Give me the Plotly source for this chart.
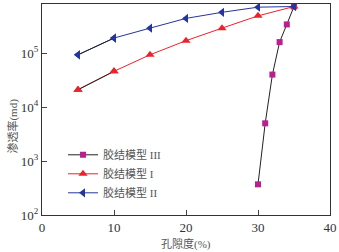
import plotly.graph_objects as go

porosity = [5, 10, 15, 20, 25, 30, 35]
perm_model_I = [2.1e4, 4.6e4, 9.3e4, 1.7e5, 2.9e5, 4.9e5, 7.3e5]
perm_model_II = [9.3e4, 1.9e5, 2.9e5, 4.4e5, 5.7e5, 7.1e5, 7.3e5]
porosity_III = [30, 31, 32, 33, 34, 35]
perm_model_III = [370, 5.0e3, 4.0e4, 1.6e5, 3.4e5, 7.3e5]

names = ["胶结模型 III", "胶结模型 I", "胶结模型 II"]
ytickvals = [1e2, 1e3, 1e4, 1e5]
yticktext = ["10<sup>2</sup>", "10<sup>3</sup>", "10<sup>4</sup>", "10<sup>5</sup>"]
xtickvals = [0, 10, 20, 30, 40]
xtitle = "孔隙度(%)"
ytitle = "渗透率(md)"

FONT = "Liberation Serif, Noto Sans CJK SC, serif"

fig = go.Figure()
fig.add_trace(go.Scatter(x=porosity_III, y=perm_model_III, mode="lines+markers", name=names[0],
                         line=dict(color="#222222", width=1),
                         marker=dict(symbol="square", size=6, color="#b8208f")))
fig.add_trace(go.Scatter(x=porosity, y=perm_model_I, mode="lines+markers", name=names[1],
                         line=dict(color="#f0202a", width=1),
                         marker=dict(symbol="triangle-up", size=8, color="#f0202a")))
fig.add_trace(go.Scatter(x=porosity, y=perm_model_II, mode="lines+markers", name=names[2],
                         line=dict(color="#26359a", width=1),
                         marker=dict(symbol="triangle-left", size=8, color="#26359a")))
# first segments are drawn in black in the original
fig.add_trace(go.Scatter(x=porosity[:2], y=perm_model_I[:2], mode="lines", showlegend=False,
                         line=dict(color="#222222", width=1)))
fig.add_trace(go.Scatter(x=porosity[:2], y=perm_model_II[:2], mode="lines", showlegend=False,
                         line=dict(color="#222222", width=1)))
fig.add_trace(go.Scatter(x=porosity[:2], y=perm_model_I[:2], mode="markers", showlegend=False,
                         marker=dict(symbol="triangle-up", size=8, color="#f0202a")))
fig.add_trace(go.Scatter(x=porosity[:2], y=perm_model_II[:2], mode="markers", showlegend=False,
                         marker=dict(symbol="triangle-left", size=8, color="#26359a")))

fig.update_layout(
    width=339, height=252,
    margin=dict(l=42, r=9, t=4, b=37),
    paper_bgcolor="white", plot_bgcolor="white",
    font=dict(family=FONT, size=12, color="#333333"),
    showlegend=True,
    legend=dict(x=0.073, y=0.354, xanchor="left", yanchor="top",
                bgcolor="rgba(0,0,0,0)", font=dict(size=11, color="#555555"),
                tracegroupgap=0, itemwidth=30),
    annotations=[
        dict(text=xtitle, xref="paper", yref="paper", x=0.5, y=-0.095, xanchor="center",
             yanchor="top", showarrow=False, font=dict(size=11, color="#555555")),
        dict(text=ytitle, xref="paper", yref="paper", x=-0.1, y=0.42, xanchor="center",
             yanchor="middle", showarrow=False, textangle=-90,
             font=dict(size=11, color="#555555")),
    ],
)
fig.update_xaxes(range=[0, 40], tickvals=xtickvals, ticks="inside", ticklen=5,
                 showline=True, linecolor="#333333", linewidth=1, mirror=True,
                 showgrid=False, zeroline=False, automargin=False,
                 tickfont=dict(size=13, color="#333333"))
fig.update_yaxes(type="log", range=[2, 5.91], tickvals=ytickvals, ticktext=yticktext,
                 ticks="inside", ticklen=5,
                 showline=True, linecolor="#333333", linewidth=1, mirror=True,
                 showgrid=False, zeroline=False, automargin=False,
                 tickfont=dict(size=13, color="#333333"))

fig.write_html("out.html", config={"displayModeBar": False},
               post_script="document.body.style.margin='0';document.body.style.overflow='hidden';")
